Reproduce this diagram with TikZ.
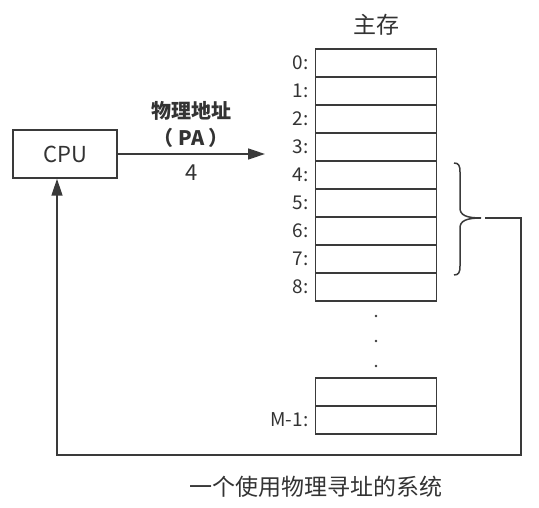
\documentclass[tikz,border=0pt]{standalone}
\usepackage{fontspec}
\setmainfont{Noto Sans CJK SC}
\usepackage{tikz}
\usetikzlibrary{arrows.meta,positioning}
\definecolor{Ink}{HTML}{3A3A3A}
\definecolor{Txt}{HTML}{333333}

\begin{document}
\begin{tikzpicture}[x=1pt,y=-1pt,
    cell/.style={draw=Ink,line width=1.5pt,minimum width=121pt,minimum height=28pt,
      inner sep=0pt,outer sep=0pt,
      label={[font=\fontsize{19}{19}\selectfont,text=Txt,inner sep=1pt,label distance=6pt]left:#1}},
    cell/.default={},
    cpubox/.style={draw=Ink,line width=1.5pt,minimum width=104pt,minimum height=48pt,
      font=\fontsize{22}{22}\selectfont,text=Txt},
    txt/.style={text=Txt,inner sep=0pt},
    arr/.style={-{Triangle[length=17pt,width=11pt]},line width=1.5pt,color=Ink},
    brace/.style={line width=1.5pt,color=Ink}
  ]
    \useasboundingbox (0,0) rectangle (539,508);
    \node[txt,font=\fontsize{23}{23}\selectfont] (title) at (376,25) {主存};
    % memory cells 0..8
    \foreach \i in {0,...,8}
      \node[cell={\i:}] (c\i) at (376,63+28*\i) {};
    \foreach \y/\n in {316/d1,341/d2,366/d3}
      \fill[Ink] (376,\y) circle (1.3pt) coordinate (\n);
    \node[cell] (m2) at (376,392) {};
    \node[cell={M-1:}] (m1) at (376,420) {};
    % CPU and address bus
    \node[cpubox] (cpu) at (65,154) {CPU};
    \coordinate (pa) at (265,154);
    \draw[arr] (cpu.east) -- (pa)
      node[midway,above=6pt,txt,align=center,font=\fontsize{20}{27}\selectfont\bfseries] (name)
        {物理地址\\（ PA ）}
      node[midway,below=10pt,txt,font=\fontsize{22}{22}\selectfont] (num) {4};
    % brace over words 4..7
    \coordinate (tip) at (481,218);
    \draw[brace] (454,163) .. controls (459,163) and (460,166) .. (460,172) -- (460,208)
      .. controls (460,215) and (466,218) .. (tip)
      .. controls (466,218) and (460,221) .. (460,228) -- (460,266)
      .. controls (460,272) and (459,275) .. (454,275);
    \coordinate (back) at ([xshift=-8pt]cpu.south);
    \draw[arr] ([xshift=4pt]tip) -| (521,455) -| (back);
    \node[txt,font=\fontsize{23}{23}\selectfont] (caption) at (316,487) {一个使用物理寻址的系统};
  \end{tikzpicture}
\end{document}
